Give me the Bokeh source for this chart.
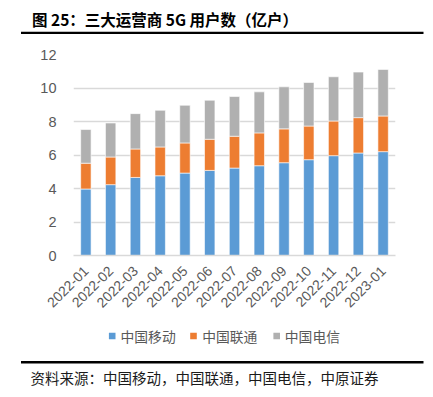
import math
from bokeh.plotting import figure
from bokeh.layouts import column
from bokeh.models import Range1d, FixedTicker, ColumnDataSource
from bokeh.core.properties import value
from bokeh.embed import file_html
from bokeh.resources import INLINE

months = ["2022-01", "2022-02", "2022-03", "2022-04", "2022-05", "2022-06", "2022-07",
          "2022-08", "2022-09", "2022-10", "2022-11", "2022-12", "2023-01"]
mobile = [3.97, 4.23, 4.66, 4.76, 4.92, 5.08, 5.22, 5.36, 5.54, 5.72, 5.96, 6.12, 6.20]
unicom = [1.54, 1.65, 1.70, 1.72, 1.80, 1.86, 1.90, 1.96, 2.02, 2.01, 2.07, 2.11, 2.13]
telecom = [2.01, 2.03, 2.11, 2.19, 2.25, 2.33, 2.37, 2.45, 2.51, 2.60, 2.64, 2.72, 2.78]
series_names = ["中国移动", "中国联通", "中国电信"]
y_ticks = [0, 2, 4, 6, 8, 10, 12]

title_text = "图 25：三大运营商 5G 用户数（亿户）"
source_text = "资料来源：中国移动，中国联通，中国电信，中原证券"

colors = ["#5B9BD5", "#ED7D31", "#B0B0B0"]
CJK = "Noto Sans CJK SC"
LAT = "Liberation Sans"

W = 433
HH, MH, FH_ = 40, 285, 72   # header, main, footer heights
n = len(months)


def blank_fig(h):
    f = figure(width=W, height=h, output_backend="svg", toolbar_location=None,
               x_range=Range1d(0, W), y_range=Range1d(h, 0),
               x_axis_type=None, y_axis_type=None, min_border=0, frame_align=False)
    f.min_border_left = f.min_border_right = f.min_border_top = f.min_border_bottom = 0
    f.outline_line_color = None
    f.xgrid.visible = False
    f.ygrid.visible = False
    f.background_fill_color = "white"
    f.border_fill_color = "white"
    return f


# ---- header: title + rule
hdr = blank_fig(HH)
hdr.text(x=[31.5], y=[18.5], text=[title_text], text_font=value(CJK), text_font_size="15.5px",
         text_font_style="bold", text_color="black", text_baseline="middle", text_align="left")
hdr.quad(left=[20.5], right=[423], top=[31.3], bottom=[33.6], fill_color="black", line_color=None)

# ---- main chart
src = ColumnDataSource(data=dict(x=list(range(n)), mobile=mobile, unicom=unicom, telecom=telecom))
p = figure(width=W, height=MH, output_backend="svg", toolbar_location=None,
           x_range=Range1d(-0.5, n - 0.5), y_range=Range1d(0, 12), frame_align=False)
p.min_border_left = 73
p.min_border_right = 38
p.min_border_top = 14
p.min_border_bottom = 70
p.outline_line_color = None
p.background_fill_color = "white"
p.border_fill_color = "white"

rs = p.vbar_stack(["mobile", "unicom", "telecom"], x="x", width=0.42, color=colors,
                  line_color="white", line_width=0.6, source=src)

p.xaxis.ticker = FixedTicker(ticks=list(range(n)))
p.xaxis.major_label_overrides = {i: m for i, m in enumerate(months)}
p.xaxis.major_label_orientation = math.pi / 4
p.xaxis.axis_line_color = "#D9D9D9"
p.xaxis.axis_line_width = 1.5
p.xaxis.major_tick_line_color = None
p.xaxis.minor_tick_line_color = None
p.xaxis.major_tick_out = 0
p.xaxis.major_tick_in = 0
p.xaxis.major_label_standoff = 13
p.xaxis.major_label_text_font = LAT
p.xaxis.major_label_text_font_size = "14px"
p.xaxis.major_label_text_color = "#595959"

p.yaxis.ticker = FixedTicker(ticks=y_ticks)
p.yaxis.axis_line_color = None
p.yaxis.major_tick_line_color = None
p.yaxis.minor_tick_line_color = None
p.yaxis.major_tick_out = 0
p.yaxis.major_tick_in = 0
p.yaxis.major_label_standoff = 17
p.yaxis.major_label_text_font = LAT
p.yaxis.major_label_text_font_size = "14.5px"
p.yaxis.major_label_text_color = "#595959"

p.xgrid.grid_line_color = None
p.ygrid.grid_line_color = "#D9D9D9"
p.ygrid.grid_line_width = 1.5

# ---- footer: legend, rule, source
ftr = blank_fig(FH_)
leg_sq_x = [111.7, 193.0, 276.2]
leg_tx_x = [120.0, 201.7, 284.3]
ftr.rect(x=leg_sq_x, y=[10.5] * 3, width=6.6, height=6.6, fill_color=colors, line_color=None)
ftr.text(x=leg_tx_x, y=[10.8] * 3, text=series_names, text_font=value(CJK), text_font_size="13.8px",
         text_color="#595959", text_baseline="middle", text_align="left")
ftr.quad(left=[20.5], right=[423], top=[35.6], bottom=[37.9], fill_color="black", line_color=None)
ftr.text(x=[30], y=[52], text=[source_text], text_font=value(CJK), text_font_size="14.5px",
         text_color="#1A1A1A", text_baseline="middle", text_align="left")

layout = column(hdr, p, ftr, spacing=0)
open("out.html", "w").write(file_html(layout, INLINE))
